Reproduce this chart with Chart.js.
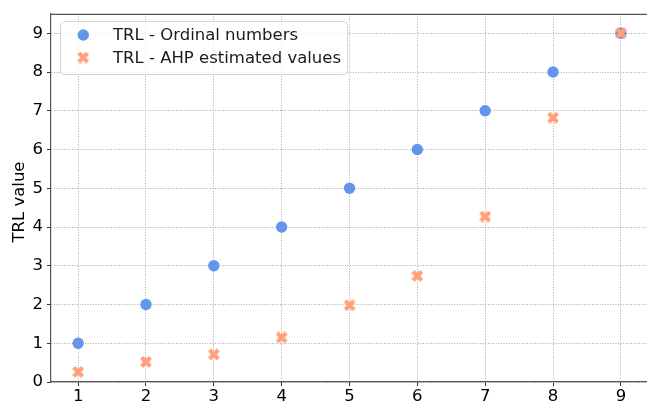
<!DOCTYPE html>
<html>
<head>
<meta charset="utf-8">
<script src="https://cdn.jsdelivr.net/npm/chart.js@4/dist/chart.umd.min.js"></script>
<style>
  html, body { margin: 0; padding: 0; background: #fff; overflow: hidden; }
  #wrap { width: 647px; height: 401px; }
</style>
</head>
<body>
<div id="wrap"><canvas id="chart" width="647" height="401"></canvas></div>
<script>
// TRL levels and their values
const trlLevels = [1, 2, 3, 4, 5, 6, 7, 8, 9];
const ordinalValues = [1, 2, 3, 4, 5, 6, 7, 8, 9];
const ahpValues = [0.26, 0.52, 0.71, 1.15, 1.98, 2.74, 4.27, 6.82, 9.0];
const xTickValues = [1, 2, 3, 4, 5, 6, 7, 8, 9];
const yTickValues = [0, 1, 2, 3, 4, 5, 6, 7, 8, 9];
const seriesLabels = ['TRL - Ordinal numbers', 'TRL - AHP estimated values'];

const BLUE = '#6495ED';
const SALMON = '#FFA07A';
const FONT = "'DejaVu Sans', sans-serif";
const FONT_SIZE = 16.5;

// filled "X" marker
function makeXMarker(size, color) {
  const c = document.createElement('canvas');
  c.width = size; c.height = size;
  const g = c.getContext('2d');
  const pts = [[-1,-2],[0,-1],[1,-2],[2,-1],[1,0],[2,1],[1,2],[0,1],[-1,2],[-2,1],[-1,0],[-2,-1]];
  const s = size / 4;
  g.fillStyle = color;
  g.beginPath();
  pts.forEach((p, i) => {
    const x = size / 2 + p[0] * s * 0.98, y = size / 2 + p[1] * s * 0.98;
    if (i === 0) g.moveTo(x, y); else g.lineTo(x, y);
  });
  g.closePath();
  g.fill();
  return c;
}
const xMarker = makeXMarker(12, SALMON);

const toPoints = (xs, ys) => xs.map((x, i) => ({ x: x, y: ys[i] }));

// frame (top spine), y-axis title and in-plot legend
const decorations = {
  id: 'decorations',
  afterDraw(chart) {
    const ctx = chart.ctx;
    const a = chart.chartArea;
    ctx.save();
    ctx.strokeStyle = '#555';
    ctx.lineWidth = 1.1;
    ctx.beginPath();
    ctx.moveTo(a.left, a.top + 0.5);
    ctx.lineTo(a.right, a.top + 0.5);
    ctx.stroke();

    // y-axis title
    ctx.fillStyle = '#000';
    ctx.font = FONT_SIZE + 'px ' + FONT;
    ctx.textAlign = 'center';
    ctx.textBaseline = 'middle';
    ctx.translate(20, 202);
    ctx.rotate(-Math.PI / 2);
    ctx.fillText('TRL value', 0, 0);
    ctx.restore();

    // legend
    ctx.save();
    const bx = 60.5, by = 21.5, bw = 287, bh = 53, r = 4;
    ctx.beginPath();
    ctx.moveTo(bx + r, by);
    ctx.lineTo(bx + bw - r, by);
    ctx.quadraticCurveTo(bx + bw, by, bx + bw, by + r);
    ctx.lineTo(bx + bw, by + bh - r);
    ctx.quadraticCurveTo(bx + bw, by + bh, bx + bw - r, by + bh);
    ctx.lineTo(bx + r, by + bh);
    ctx.quadraticCurveTo(bx, by + bh, bx, by + bh - r);
    ctx.lineTo(bx, by + r);
    ctx.quadraticCurveTo(bx, by, bx + r, by);
    ctx.closePath();
    ctx.fillStyle = 'rgba(255,255,255,0.8)';
    ctx.fill();
    ctx.strokeStyle = '#d6d6d6';
    ctx.lineWidth = 1;
    ctx.stroke();

    const rows = [35, 57.5];
    // circle marker
    ctx.fillStyle = BLUE;
    ctx.beginPath();
    ctx.arc(83.3, rows[0], 5.7, 0, Math.PI * 2);
    ctx.fill();
    // X marker
    ctx.drawImage(xMarker, 83.3 - 6, rows[1] - 6);

    ctx.fillStyle = '#1a1a1a';
    ctx.font = FONT_SIZE + 'px ' + FONT;
    ctx.textAlign = 'left';
    ctx.textBaseline = 'middle';
    ctx.fillText(seriesLabels[0], 113, rows[0] + 1);
    ctx.fillText(seriesLabels[1], 113, rows[1] + 1);
    ctx.restore();
  }
};

const gridCommon = {
  color: '#a8a8a8',
  lineWidth: 1,
  drawTicks: true,
  tickLength: 4,
  tickColor: '#333',
  tickWidth: 1,
  tickBorderDash: []
};

new Chart(document.getElementById('chart'), {
  type: 'scatter',
  data: {
    datasets: [
      {
        label: seriesLabels[0],
        data: toPoints(trlLevels, ordinalValues),
        pointStyle: 'circle',
        pointRadius: 5.7,
        pointHoverRadius: 5.7,
        backgroundColor: BLUE,
        borderColor: BLUE,
        borderWidth: 0,
        order: 1
      },
      {
        label: seriesLabels[1],
        data: toPoints(trlLevels, ahpValues),
        pointStyle: xMarker,
        pointRadius: 6,
        backgroundColor: SALMON,
        borderColor: SALMON,
        order: 0
      }
    ]
  },
  options: {
    responsive: false,
    animation: false,
    events: [],
    layout: { autoPadding: false, padding: { left: 0, top: 13, right: 0, bottom: 0 } },
    plugins: { legend: { display: false }, tooltip: { enabled: false } },
    scales: {
      x: {
        type: 'linear',
        min: 0.6,
        max: 9.385,
        afterBuildTicks: s => { s.ticks = xTickValues.map(v => ({ value: v })); },
        afterFit: s => { s.height = 19; },
        grid: gridCommon,
        border: { display: true, color: '#555', width: 1.2, dash: [1, 1.6] },
        ticks: {
          color: '#000',
          font: { family: FONT, size: FONT_SIZE },
          padding: 1,
          maxRotation: 0,
          callback: v => String(v)
        }
      },
      y: {
        type: 'linear',
        min: 0,
        max: 9.5,
        afterBuildTicks: s => { s.ticks = yTickValues.map(v => ({ value: v })); },
        afterFit: s => { s.width = 51; },
        grid: gridCommon,
        border: { display: true, color: '#555', width: 1.2, dash: [1, 1.6] },
        ticks: {
          color: '#000',
          font: { family: FONT, size: FONT_SIZE },
          padding: 4,
          callback: v => String(v)
        }
      }
    }
  },
  plugins: [decorations]
});
</script>
</body>
</html>
